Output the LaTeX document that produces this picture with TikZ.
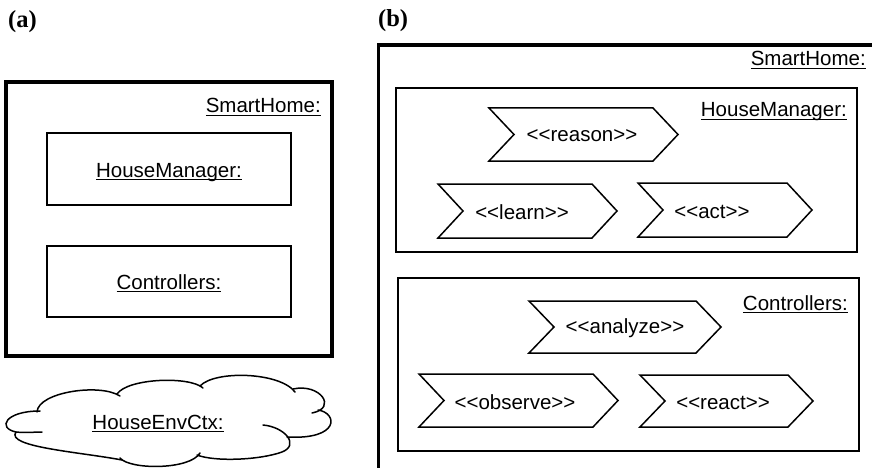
\documentclass[tikz,border=0pt]{standalone}
\usepackage{fontspec}
\setmainfont{Liberation Sans}
\newfontfamily\panelfont{Liberation Serif}
% underlined object name with a rule at a fixed depth below the baseline
\newcommand\objname[1]{\setbox0=\hbox{#1}\rlap{\rule[-3pt]{\wd0}{1.1pt}}\box0}
% stereotype in doubled angle brackets, kept as separate characters
\newcommand\stereo[1]{<\kern0pt<#1>\kern0pt>}
% chevron: #1 name, #2 left x, #3 top y, #4 bottom y, #5 upper right corner x, #6 text x, #7 text
\newcommand\chev[7]{%
  \draw[chevron] (#2,#3) -- (#5,#3) -- ({#5+25},{(#3+#4)/2}) -- (#5,#4) -- (#2,#4)
    -- ({#2+25},{(#3+#4)/2}) -- cycle;
  \node[txt] (#1) at (#6,{(#3+#4)/2+1.5}) {\stereo{#7}};}
\tikzset{
  txt/.style={font=\fontsize{20.5}{24}\selectfont, inner sep=0pt},
  heavybox/.style={draw, line width=3.6pt, inner sep=0pt},
  partbox/.style={draw, line width=1.5pt, inner sep=0pt},
  chevron/.style={draw, line width=1.5pt, line join=miter},
  cloudline/.style={draw, line width=1.5pt, line cap=round},
  tag/.style={font=\panelfont\bfseries\fontsize{24.5}{28}\selectfont, inner sep=0pt},
}
\begin{document}
\begin{tikzpicture}[x=1pt, y=-1pt]
\fill[white] (0,0) rectangle (872,468);
\useasboundingbox (0,0) rectangle (872,468);

% ---------- panel (a) ----------
\node[tag, anchor=base west] (taga) at (8,28) {(a)};
\node[heavybox, minimum width=326pt, minimum height=274pt] (smartA) at (169,219) {};
\node[txt, anchor=base east] (smartAlbl) at (321,113) {\objname{SmartHome:}};
\node[partbox, minimum width=244pt, minimum height=72pt] (hmA) at (169,169) {};
\node[txt, anchor=base] (hmAlbl) at (169,177) {\objname{HouseManager:}};
\node[partbox, minimum width=244pt, minimum height=71pt] (ctA) at (169,281.5) {};
\node[txt, anchor=base] (ctAlbl) at (169,289) {\objname{Controllers:}};

% environment cloud, one stroke per puff
\draw[cloudline] (37,412) .. controls (38,392) and (100,383) .. (120,396);
\draw[cloudline] (117,394) .. controls (128,378) and (190,376) .. (203,388);
\draw[cloudline] (200,386) .. controls (215,370) and (280,372) .. (295,392);
\draw[cloudline] (293,389) .. controls (320,383) and (338,408) .. (312,413);
\draw[cloudline] (318,410) .. controls (338,413) and (340,440) .. (287,437);
\draw[cloudline] (263,425) .. controls (285,427) and (300,445) .. (282,452)
                 .. controls (260,460) and (215,462) .. (197,455);
\draw[cloudline] (120,458) .. controls (130,470) and (190,470) .. (200,453);
\draw[cloudline] (16,432) .. controls (5,447) and (80,452) .. (122,460);
\draw[cloudline] (40,411) .. controls (5,411) and (-3,428) .. (16,432)
                 .. controls (25,433) and (35,432) .. (42,432);
\node[txt, anchor=base] (envlbl) at (158,429) {\objname{HouseEnvCtx:}};

% ---------- panel (b) ----------
\node[tag, anchor=base west] (tagb) at (378,27) {(b)};
\begin{scope}
  \clip (0,0) rectangle (872,468);
  \node[heavybox, minimum width=540pt, minimum height=460pt, anchor=north west] (smartB) at (376.5,43) {};
\end{scope}
\node[txt, anchor=base east] (smartBlbl) at (866,66) {\objname{SmartHome:}};

\node[partbox, minimum width=461pt, minimum height=164pt] (hmB) at (626.5,170) {};
\node[txt, anchor=base east] (hmBlbl) at (847,117) {\objname{HouseManager:}};
\chev{reason}{489}{108}{161}{653}{582}{reason}
\chev{learn}{438}{184}{238}{592}{522}{learn}
\chev{act}{638}{183}{237}{787}{712}{act}

\node[partbox, minimum width=461pt, minimum height=173pt] (ctB) at (628.5,364.5) {};
\node[txt, anchor=base east] (ctBlbl) at (848,310) {\objname{Controllers:}};
\chev{analyze}{529}{301}{353}{696}{625}{analyze}
\chev{observe}{419}{374}{427}{593}{515}{observe}
\chev{react}{640}{375}{427}{788}{723}{react}
\end{tikzpicture}
\end{document}
